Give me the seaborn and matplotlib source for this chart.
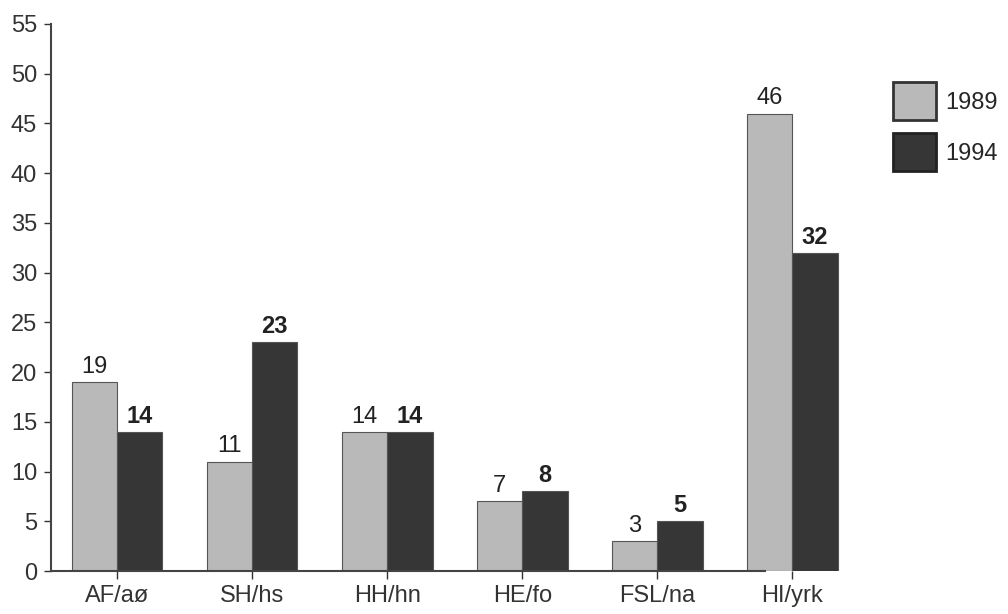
import pandas as pd
import matplotlib
matplotlib.use("Agg")
import matplotlib.pyplot as plt
import seaborn as sns
from matplotlib.patches import Patch

# data
categories = ["AF/aø", "SH/hs", "HH/hn", "HE/fo", "FSL/na", "HI/yrk"]
years = ["1989", "1994"]
values_1989 = [19, 11, 14, 7, 3, 46]
values_1994 = [14, 23, 14, 8, 5, 32]
y_ticks = [0, 5, 10, 15, 20, 25, 30, 35, 40, 45, 50, 55]

df = pd.DataFrame({
    "kategori": categories * 2,
    "år": [years[0]] * len(categories) + [years[1]] * len(categories),
    "verdi": values_1989 + values_1994,
})

sns.set_style("white")
plt.rcParams["font.family"] = ["Liberation Sans", "DejaVu Sans"]

light = "#b9b9b9"
dark = "#363636"
fs = 17

fig = plt.figure(figsize=(10.08, 6.14), dpi=100)
ax = fig.add_axes([51 / 1008, 43 / 614, 809 / 1008, 547 / 614])

sns.barplot(data=df, x="kategori", y="verdi", hue="år", order=categories,
            hue_order=years, palette=[light, dark], width=0.67,
            saturation=1, edgecolor="#555555", linewidth=0.8, ax=ax,
            legend=False)

# value labels: 1989 normal, 1994 bold
for cont, weight in zip(ax.containers, ["normal", "bold"]):
    ax.bar_label(cont, labels=[f"{int(b.get_height())}" for b in cont],
                 padding=3, fontsize=fs, fontweight=weight, color="#222222")

ax.set_xlim(-0.49, 5.5)
ax.set_ylim(0, 55)
ax.set_yticks(y_ticks)
ax.set_xlabel("")
ax.set_ylabel("")
ax.tick_params(axis="both", labelsize=fs, colors="#333333", length=5,
               width=1, direction="out", pad=5)
ax.tick_params(axis="x", length=6, pad=4)
ax.tick_params(bottom=True, left=True)
for s in ["top", "right"]:
    ax.spines[s].set_visible(False)
ax.spines["left"].set_color("#444444")
ax.spines["bottom"].set_color("#444444")
ax.spines["left"].set_linewidth(1.5)
ax.spines["bottom"].set_linewidth(1.5)
ax.spines["bottom"].set_bounds(-0.49, 4.8)

handles = [Patch(facecolor=light, edgecolor="#333333", linewidth=2),
           Patch(facecolor=dark, edgecolor="#222222", linewidth=2)]
fig.legend(handles, years, loc="upper left", bbox_to_anchor=(891 / 1008, 1 - 80 / 614),
           frameon=False, fontsize=fs, handlelength=1.8, handleheight=2.1,
           handletextpad=0.4, labelspacing=0.55, borderpad=0.1, borderaxespad=0)

fig.savefig("out.png", dpi=100)
